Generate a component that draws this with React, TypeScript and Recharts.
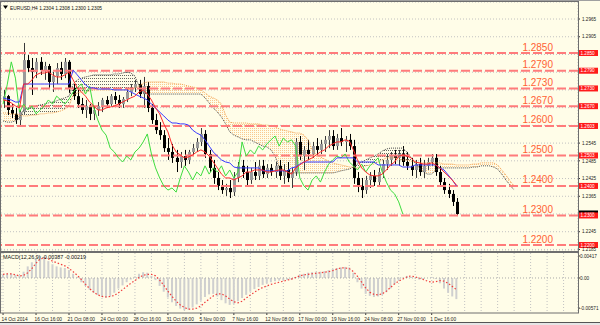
import React from "react";
import {
  ComposedChart,
  Bar,
  Line,
  Area,
  XAxis,
  YAxis,
  CartesianGrid,
  ReferenceLine,
} from "recharts";

const BG = "#fffde8";
const FONT = "Liberation Sans, Arial, sans-serif";

// EURUSD H4 - one slot = two H4 bars
const open = [
  1.2691, 1.2704, 1.2657, 1.2644, 1.2623, 1.2650, 1.2826, 1.2799, 1.2786, 1.2820,
  1.2792, 1.2806, 1.2752, 1.2772, 1.2799, 1.2779, 1.2820, 1.2732, 1.2704, 1.2677,
  1.2657, 1.2671, 1.2644, 1.2657, 1.2671, 1.2691, 1.2677, 1.2704, 1.2691, 1.2677,
  1.2694, 1.2718, 1.2732, 1.2745, 1.2711, 1.2738, 1.2664, 1.2623, 1.2589, 1.2572,
  1.2528, 1.2515, 1.2495, 1.2481, 1.2501, 1.2488, 1.2515, 1.2528, 1.2549, 1.2576,
  1.2508, 1.2461, 1.2427, 1.2400, 1.2386, 1.2393, 1.2379, 1.2427, 1.2468, 1.2447,
  1.2420, 1.2447, 1.2434, 1.2468, 1.2440, 1.2461, 1.2447, 1.2468, 1.2434, 1.2454,
  1.2427, 1.2447, 1.2549, 1.2501, 1.2522, 1.2508, 1.2535, 1.2522, 1.2542, 1.2556,
  1.2569, 1.2535, 1.2562, 1.2549, 1.2556, 1.2535, 1.2427, 1.2400, 1.2386, 1.2420,
  1.2434, 1.2413, 1.2447, 1.2474, 1.2488, 1.2501, 1.2495, 1.2508, 1.2481, 1.2468,
  1.2454, 1.2474, 1.2447, 1.2468, 1.2481, 1.2495, 1.2447, 1.2413, 1.2386, 1.2373,
  1.2346,
];
const close = [
  1.2704, 1.2657, 1.2644, 1.2623, 1.2650, 1.2826, 1.2799, 1.2786, 1.2820, 1.2792,
  1.2806, 1.2752, 1.2772, 1.2799, 1.2779, 1.2820, 1.2732, 1.2704, 1.2677, 1.2657,
  1.2671, 1.2644, 1.2657, 1.2671, 1.2691, 1.2677, 1.2704, 1.2691, 1.2677, 1.2694,
  1.2718, 1.2732, 1.2745, 1.2711, 1.2738, 1.2664, 1.2623, 1.2589, 1.2572, 1.2528,
  1.2515, 1.2495, 1.2481, 1.2501, 1.2488, 1.2515, 1.2528, 1.2549, 1.2576, 1.2508,
  1.2461, 1.2427, 1.2400, 1.2386, 1.2393, 1.2379, 1.2427, 1.2468, 1.2447, 1.2420,
  1.2447, 1.2434, 1.2468, 1.2440, 1.2461, 1.2447, 1.2468, 1.2434, 1.2454, 1.2427,
  1.2447, 1.2549, 1.2501, 1.2522, 1.2508, 1.2535, 1.2522, 1.2542, 1.2556, 1.2569,
  1.2535, 1.2562, 1.2549, 1.2556, 1.2535, 1.2427, 1.2400, 1.2386, 1.2420, 1.2434,
  1.2413, 1.2447, 1.2474, 1.2488, 1.2501, 1.2495, 1.2508, 1.2481, 1.2468, 1.2454,
  1.2474, 1.2447, 1.2468, 1.2481, 1.2495, 1.2447, 1.2413, 1.2386, 1.2373, 1.2346,
  1.2305,
];
const high = [
  1.2725, 1.2708, 1.2677, 1.2664, 1.2657, 1.2884, 1.2843, 1.2833, 1.2833, 1.2836,
  1.2820, 1.2813, 1.2786, 1.2816, 1.2820, 1.2833, 1.2826, 1.2745, 1.2725, 1.2698,
  1.2691, 1.2677, 1.2671, 1.2684, 1.2698, 1.2704, 1.2711, 1.2718, 1.2708, 1.2701,
  1.2732, 1.2745, 1.2759, 1.2759, 1.2769, 1.2752, 1.2677, 1.2644, 1.2616, 1.2589,
  1.2562, 1.2542, 1.2522, 1.2515, 1.2522, 1.2522, 1.2542, 1.2562, 1.2596, 1.2589,
  1.2522, 1.2488, 1.2447, 1.2420, 1.2407, 1.2420, 1.2447, 1.2481, 1.2488, 1.2468,
  1.2461, 1.2481, 1.2488, 1.2488, 1.2474, 1.2474, 1.2481, 1.2488, 1.2474, 1.2481,
  1.2461, 1.2562, 1.2569, 1.2535, 1.2556, 1.2549, 1.2562, 1.2556, 1.2569, 1.2589,
  1.2589, 1.2576, 1.2596, 1.2569, 1.2576, 1.2556, 1.2447, 1.2427, 1.2434, 1.2447,
  1.2454, 1.2461, 1.2488, 1.2508, 1.2515, 1.2522, 1.2522, 1.2535, 1.2515, 1.2495,
  1.2488, 1.2495, 1.2488, 1.2495, 1.2508, 1.2508, 1.2468, 1.2427, 1.2407, 1.2386,
  1.2359,
];
const low = [
  1.2664, 1.2640, 1.2630, 1.2610, 1.2606, 1.2644, 1.2786, 1.2708, 1.2765, 1.2776,
  1.2759, 1.2732, 1.2718, 1.2745, 1.2759, 1.2765, 1.2715, 1.2691, 1.2664, 1.2644,
  1.2630, 1.2623, 1.2623, 1.2637, 1.2650, 1.2664, 1.2671, 1.2677, 1.2664, 1.2664,
  1.2684, 1.2704, 1.2718, 1.2698, 1.2664, 1.2650, 1.2610, 1.2576, 1.2556, 1.2515,
  1.2488, 1.2478, 1.2447, 1.2461, 1.2468, 1.2474, 1.2501, 1.2515, 1.2535, 1.2495,
  1.2447, 1.2407, 1.2386, 1.2373, 1.2366, 1.2359, 1.2366, 1.2413, 1.2427, 1.2400,
  1.2407, 1.2420, 1.2420, 1.2427, 1.2427, 1.2434, 1.2427, 1.2420, 1.2407, 1.2413,
  1.2393, 1.2434, 1.2488, 1.2454, 1.2488, 1.2495, 1.2501, 1.2508, 1.2515, 1.2528,
  1.2522, 1.2522, 1.2535, 1.2515, 1.2522, 1.2407, 1.2379, 1.2359, 1.2373, 1.2393,
  1.2400, 1.2400, 1.2427, 1.2454, 1.2468, 1.2474, 1.2468, 1.2468, 1.2454, 1.2434,
  1.2427, 1.2434, 1.2427, 1.2454, 1.2468, 1.2434, 1.2400, 1.2373, 1.2359, 1.2332,
  1.2298,
];

// Ichimoku
const tenkan = [
  1.2691, 1.2688, 1.2681, 1.2671, 1.2664, 1.2745, 1.2745, 1.2759, 1.2776, 1.2782,
  1.2782, 1.2786, 1.2776, 1.2769, 1.2769, 1.2776, 1.2786, 1.2759, 1.2732, 1.2718,
  1.2704, 1.2684, 1.2671, 1.2657, 1.2657, 1.2664, 1.2667, 1.2671, 1.2677, 1.2684,
  1.2691, 1.2698, 1.2704, 1.2718, 1.2725, 1.2711, 1.2691, 1.2664, 1.2644, 1.2610,
  1.2583, 1.2539, 1.2515, 1.2505, 1.2495, 1.2498, 1.2505, 1.2515, 1.2522, 1.2515,
  1.2501, 1.2481, 1.2461, 1.2440, 1.2427, 1.2427, 1.2420, 1.2427, 1.2434, 1.2447,
  1.2447, 1.2454, 1.2454, 1.2454, 1.2447, 1.2447, 1.2451, 1.2454, 1.2454, 1.2447,
  1.2440, 1.2461, 1.2471, 1.2481, 1.2488, 1.2495, 1.2505, 1.2515, 1.2522, 1.2535,
  1.2542, 1.2549, 1.2549, 1.2556, 1.2552, 1.2522, 1.2488, 1.2461, 1.2447, 1.2437,
  1.2434, 1.2434, 1.2440, 1.2454, 1.2471, 1.2481, 1.2501, 1.2505, 1.2501, 1.2495,
  1.2481, 1.2478, 1.2474, 1.2474, 1.2478, 1.2471, 1.2461, 1.2447, 1.2434, 1.2420,
  1.2403,
];
const kijun = [
  1.2698, 1.2694, 1.2691, 1.2684, 1.2684, 1.2745, 1.2745, 1.2745, 1.2745, 1.2745,
  1.2745, 1.2745, 1.2745, 1.2745, 1.2745, 1.2745, 1.2745, 1.2792, 1.2776, 1.2759,
  1.2742, 1.2732, 1.2732, 1.2728, 1.2728, 1.2728, 1.2728, 1.2725, 1.2725, 1.2725,
  1.2725, 1.2718, 1.2711, 1.2704, 1.2698, 1.2691, 1.2677, 1.2664, 1.2650, 1.2637,
  1.2623, 1.2613, 1.2613, 1.2610, 1.2610, 1.2606, 1.2589, 1.2579, 1.2572, 1.2556,
  1.2535, 1.2515, 1.2501, 1.2488, 1.2481, 1.2478, 1.2464, 1.2461, 1.2461, 1.2461,
  1.2461, 1.2461, 1.2461, 1.2451, 1.2451, 1.2451, 1.2451, 1.2451, 1.2451, 1.2451,
  1.2461, 1.2464, 1.2474, 1.2481, 1.2481, 1.2481, 1.2481, 1.2481, 1.2481, 1.2481,
  1.2481, 1.2495, 1.2495, 1.2495, 1.2495, 1.2495, 1.2481, 1.2481, 1.2481, 1.2481,
  1.2481, 1.2471, 1.2471, 1.2471, 1.2471, 1.2471, 1.2471, 1.2464, 1.2464, 1.2464,
  1.2471, 1.2471, 1.2471, 1.2471, 1.2471, 1.2471, 1.2461, 1.2454, 1.2437, 1.2420,
  1.2400,
];
const chikou = [
  1.2677, 1.2742, 1.2820, 1.2765, 1.2650, 1.2677, 1.2657, 1.2671, 1.2644, 1.2657,
  1.2671, 1.2691, 1.2677, 1.2704, 1.2691, 1.2677, 1.2694, 1.2718, 1.2732, 1.2745,
  1.2711, 1.2738, 1.2664, 1.2623, 1.2589, 1.2572, 1.2528, 1.2515, 1.2495, 1.2481,
  1.2501, 1.2488, 1.2515, 1.2528, 1.2549, 1.2576, 1.2508, 1.2461, 1.2427, 1.2400,
  1.2386, 1.2393, 1.2379, 1.2427, 1.2468, 1.2447, 1.2420, 1.2447, 1.2434, 1.2468,
  1.2440, 1.2461, 1.2447, 1.2468, 1.2434, 1.2454, 1.2427, 1.2447, 1.2549, 1.2501,
  1.2522, 1.2508, 1.2535, 1.2522, 1.2542, 1.2556, 1.2569, 1.2535, 1.2562, 1.2549,
  1.2556, 1.2535, 1.2427, 1.2400, 1.2386, 1.2420, 1.2434, 1.2413, 1.2447, 1.2474,
  1.2488, 1.2501, 1.2495, 1.2508, 1.2481, 1.2468, 1.2454, 1.2474, 1.2447, 1.2468,
  1.2481, 1.2495, 1.2447, 1.2413, 1.2386, 1.2373, 1.2346, 1.2305,
];
const spanA = [
  1.2647, 1.2647, 1.2644, 1.2644, 1.2640, 1.2637, 1.2637, 1.2640, 1.2640, 1.2644,
  1.2644, 1.2647, 1.2647, 1.2650, 1.2654, 1.2660, 1.2671, 1.2708, 1.2715, 1.2718,
  1.2718, 1.2721, 1.2725, 1.2725, 1.2725, 1.2725, 1.2725, 1.2725, 1.2725, 1.2725,
  1.2725, 1.2728, 1.2732, 1.2738, 1.2748, 1.2752, 1.2752, 1.2752, 1.2752, 1.2752,
  1.2748, 1.2748, 1.2745, 1.2745, 1.2742, 1.2738, 1.2735, 1.2732, 1.2725, 1.2715,
  1.2704, 1.2698, 1.2691, 1.2677, 1.2640, 1.2616, 1.2613, 1.2613, 1.2613, 1.2613,
  1.2610, 1.2610, 1.2610, 1.2606, 1.2606, 1.2603, 1.2600, 1.2593, 1.2589, 1.2586,
  1.2583, 1.2579, 1.2579, 1.2572, 1.2556, 1.2522, 1.2505, 1.2498, 1.2491, 1.2484,
  1.2478, 1.2474, 1.2471, 1.2468, 1.2464, 1.2464, 1.2461, 1.2464, 1.2468, 1.2471,
  1.2474, 1.2481, 1.2488, 1.2495, 1.2495, 1.2495, 1.2491, 1.2488, 1.2488, 1.2484,
  1.2481, 1.2478, 1.2478, 1.2478, 1.2478, 1.2478, 1.2478, 1.2474, 1.2474, 1.2474,
  1.2471, 1.2471, 1.2471, 1.2471, 1.2474, 1.2474, 1.2478, 1.2478, 1.2478, 1.2478,
  1.2471, 1.2454, 1.2437, 1.2417, 1.2400,
];
const spanB = [
  1.2620, 1.2616, 1.2616, 1.2620, 1.2630, 1.2657, 1.2664, 1.2667, 1.2671, 1.2674,
  1.2677, 1.2681, 1.2684, 1.2688, 1.2694, 1.2698, 1.2704, 1.2745, 1.2759, 1.2765,
  1.2769, 1.2772, 1.2776, 1.2776, 1.2776, 1.2776, 1.2776, 1.2779, 1.2779, 1.2782,
  1.2786, 1.2782, 1.2772, 1.2738, 1.2715, 1.2711, 1.2711, 1.2711, 1.2711, 1.2711,
  1.2711, 1.2711, 1.2711, 1.2711, 1.2711, 1.2711, 1.2711, 1.2711, 1.2711, 1.2698,
  1.2681, 1.2664, 1.2650, 1.2633, 1.2610, 1.2583, 1.2572, 1.2566, 1.2559, 1.2556,
  1.2556, 1.2549, 1.2542, 1.2535, 1.2532, 1.2522, 1.2501, 1.2461, 1.2451, 1.2447,
  1.2444, 1.2444, 1.2444, 1.2444, 1.2444, 1.2444, 1.2444, 1.2444, 1.2444, 1.2444,
  1.2444, 1.2447, 1.2451, 1.2454, 1.2457, 1.2464, 1.2474, 1.2481, 1.2488, 1.2495,
  1.2501, 1.2508, 1.2518, 1.2525, 1.2528, 1.2528, 1.2528, 1.2528, 1.2515, 1.2495,
  1.2478, 1.2461, 1.2447, 1.2440, 1.2440, 1.2454, 1.2461, 1.2461, 1.2461, 1.2461,
  1.2461, 1.2461, 1.2461, 1.2461, 1.2464, 1.2464, 1.2468, 1.2468, 1.2468, 1.2464,
  1.2457, 1.2440, 1.2420, 1.2403, 1.2386,
];

// MACD(12,26,9)
const macdHist = [
  0.0006, 0.0008, 0.0008, 0.0006, 0.0005, 0.0012, 0.0022, 0.0030, 0.0038, 0.0042,
  0.0040, 0.0032, 0.0026, 0.0022, 0.0020, 0.0019, 0.0015, 0.0008, 0.0002, -0.0008,
  -0.0015, -0.0022, -0.0028, -0.0032, -0.0036, -0.0037, -0.0035, -0.0028, -0.0020, -0.0014,
  -0.0008, -0.0003, 0.0003, 0.0008, 0.0011, 0.0010, 0.0004, -0.0004, -0.0015, -0.0026,
  -0.0037, -0.0046, -0.0053, -0.0058, -0.0061, -0.0060, -0.0056, -0.0050, -0.0043, -0.0036,
  -0.0031, -0.0030, -0.0035, -0.0042, -0.0048, -0.0051, -0.0049, -0.0044, -0.0038, -0.0032,
  -0.0026, -0.0021, -0.0017, -0.0013, -0.0010, -0.0008, -0.0006, -0.0005, -0.0004, -0.0004,
  -0.0003, 0.0002, 0.0006, 0.0008, 0.0010, 0.0011, 0.0011, 0.0012, 0.0013, 0.0015,
  0.0017, 0.0019, 0.0020, 0.0021, 0.0020, 0.0010, -0.0008, -0.0020, -0.0030, -0.0034,
  -0.0036, -0.0035, -0.0032, -0.0027, -0.0020, -0.0012, -0.0005, 0.0001, 0.0004, 0.0002,
  -0.0001, -0.0003, -0.0002, 0.0000, 0.0002, -0.0002, -0.0010, -0.0020, -0.0028, -0.0035,
  -0.0040,
];
const macdSignal = [
  0.0007, 0.0008, 0.0008, 0.0006, 0.0004, 0.0005, 0.0010, 0.0018, 0.0028, 0.0036,
  0.0038, 0.0036, 0.0032, 0.0029, 0.0026, 0.0023, 0.0018, 0.0012, 0.0005, -0.0003,
  -0.0012, -0.0020, -0.0027, -0.0032, -0.0035, -0.0036, -0.0035, -0.0033, -0.0028, -0.0022,
  -0.0016, -0.0010, -0.0005, 0.0001, 0.0005, 0.0007, 0.0007, 0.0004, -0.0004, -0.0014,
  -0.0025, -0.0035, -0.0044, -0.0051, -0.0056, -0.0059, -0.0059, -0.0057, -0.0053, -0.0046,
  -0.0040, -0.0034, -0.0030, -0.0030, -0.0034, -0.0040, -0.0045, -0.0047, -0.0044, -0.0038,
  -0.0032, -0.0027, -0.0022, -0.0018, -0.0015, -0.0012, -0.0010, -0.0008, -0.0006, -0.0004,
  -0.0002, 0.0001, 0.0004, 0.0006, 0.0007, 0.0008, 0.0009, 0.0010, 0.0011, 0.0012,
  0.0014, 0.0017, 0.0019, 0.0019, 0.0018, 0.0012, 0.0003, -0.0008, -0.0019, -0.0027,
  -0.0031, -0.0032, -0.0030, -0.0025, -0.0018, -0.0011, -0.0006, -0.0002, 0.0002, 0.0004,
  0.0002, 0.0000, -0.0003, -0.0006, -0.0008, -0.0007, -0.0005, -0.0006, -0.0010, -0.0016,
  -0.0022,
];

const dateLabels = [
  "14 Oct 2014", "16 Oct 16:00", "21 Oct 08:00", "24 Oct 00:00", "28 Oct 16:00",
  "31 Oct 08:00", "5 Nov 00:00", "7 Nov 16:00", "12 Nov 08:00", "17 Nov 00:00",
  "19 Nov 16:00", "24 Nov 08:00", "27 Nov 00:00", "1 Dec 16:00",
];
const priceTicks = [
  1.2965, 1.2905, 1.2845, 1.2785, 1.2725, 1.2665, 1.2605, 1.2545, 1.2485, 1.2425,
  1.2365, 1.2305, 1.2245, 1.2185,
];
const levels = [1.285, 1.279, 1.273, 1.267, 1.2603, 1.2503, 1.24, 1.23, 1.22];
const levelText = ["1.2850", "1.2790", "1.2730", "1.2670", "1.2600", "1.2500", "1.2400", "1.2300", "1.2200"];
const lastPrice = 1.2305;
const macdTicks = [0.00417, 0, -0.00571];
const macdTickText = ["0.00417", "0.00", "-0.00571"];

const SLOTS = 140;
const gridIdx = Array.from({ length: SLOTS / 4 }, (_, k) => k * 4);

const isUp = (k: number) => spanA[k] != null && spanA[k] >= spanB[k];
const isDn = (k: number) => spanA[k] != null && spanA[k] < spanB[k];

const rows = Array.from({ length: SLOTS }, (_, i) => {
  const a = spanA[i];
  const b = spanB[i];
  const band = a != null ? [Math.min(a, b), Math.max(a, b)] : null;
  return {
    i,
    range: i < close.length ? [low[i], high[i]] : null,
    o: open[i],
    h: high[i],
    l: low[i],
    c: close[i],
    tenkan: tenkan[i] ?? null,
    kijun: kijun[i] ?? null,
    chikou: chikou[i] ?? null,
    spanA: a ?? null,
    spanB: b ?? null,
    cloudUp: isUp(i) ? band : null,
    cloudDn: isDn(i) || isDn(i - 1) || isDn(i + 1) ? band : null,
    hist: macdHist[i] ?? null,
    signal: macdSignal[i] ?? null,
  };
});

function Candle(props: any) {
  const { x, y, width, height, payload } = props;
  if (!payload || payload.o == null) return <g />;
  const top = Math.min(y, y + height);
  const bot = Math.max(y, y + height);
  const span = payload.h - payload.l || 1e-9;
  const yOf = (v: number) => top + ((payload.h - v) / span) * (bot - top);
  const cx = Math.round(x + width / 2) + 0.5;
  const bull = payload.c >= payload.o;
  const bTop = yOf(Math.max(payload.o, payload.c));
  const bBot = yOf(Math.min(payload.o, payload.c));
  return (
    <g>
      <line x1={cx} x2={cx} y1={top} y2={bot} stroke={bull ? "#3a3a3a" : "#000"} strokeWidth={1} />
      <rect x={cx - 1.5} y={bTop} width={3} height={Math.max(1, bBot - bTop)} fill={bull ? "#9a9a9a" : "#000"} />
    </g>
  );
}

function PriceTick(props: any) {
  const { x, y, payload } = props;
  const v = payload.value;
  const covered = [...levels, lastPrice].some((l) => Math.abs(l - v) < 0.001);
  if (covered) return <g />;
  return (
    <g>
      <line x1={x} x2={x + 2} y1={y} y2={y} stroke="#333" />
      <text x={x + 4} y={y + 1.7} fontSize={4.6} fill="#222" fontFamily={FONT}>
        {v.toFixed(4)}
      </text>
    </g>
  );
}

function MacdTick(props: any) {
  const { x, y, payload } = props;
  const k = macdTicks.indexOf(payload.value);
  return (
    <g>
      <line x1={x} x2={x + 2} y1={y} y2={y} stroke="#333" />
      <text x={x + 2} y={y + 1.7} fontSize={4.7} fill="#222" fontFamily={FONT}>
        {macdTickText[k]}
      </text>
    </g>
  );
}

function DateTick(props: any) {
  const { x, y, payload } = props;
  const idx = payload.value;
  if (idx % 8 !== 0 || idx / 8 >= dateLabels.length) return <g />;
  return (
    <g>
      <line x1={x} x2={x} y1={y} y2={y + 2} stroke="#333" />
      <text x={x - 1.5} y={y + 7.5} fontSize={4.8} fill="#222" fontFamily={FONT}>
        {dateLabels[idx / 8]}
      </text>
    </g>
  );
}

const levelLabel = (text: string, box: string) => (props: any) => {
  const vb = props.viewBox || {};
  const right = vb.x + vb.width;
  const ly = vb.y;
  return (
    <g>
      <text x={right - 25} y={ly - 2.5} textAnchor="end" fontSize={10} fill="#ff6233" fontFamily={FONT}>
        {text}
      </text>
      <rect x={right + 1} y={ly - 3} width={19} height={6} fill="#ff1a1a" />
      <text x={right + 2.5} y={ly + 1.7} fontSize={4.6} fill="#fff" fontFamily={FONT}>
        {box}
      </text>
    </g>
  );
};

const priceLabel = (props: any) => {
  const vb = props.viewBox || {};
  const right = vb.x + vb.width;
  const ly = vb.y;
  return (
    <g>
      <rect x={right + 1} y={ly - 3.5} width={19} height={7} fill="#000" />
      <text x={right + 2.5} y={ly + 1.7} fontSize={4.6} fill="#fff" fontFamily={FONT}>
        {lastPrice.toFixed(4)}
      </text>
    </g>
  );
};

export default function App() {
  return (
    <div style={{ position: "absolute", left: 0, top: 0, width: 600, height: 325, background: BG, overflow: "hidden" }}>
      <div style={{ position: "absolute", left: 0, top: 0 }}>
        <ComposedChart width={600} height={251} data={rows} margin={{ top: 2, right: 0, bottom: 0, left: 1 }}>
          <defs>
            <pattern id="dotO" width="2" height="2" patternUnits="userSpaceOnUse">
              <rect width="1" height="1" fill="#f5a656" />
            </pattern>
            <pattern id="dotD" width="2" height="3" patternUnits="userSpaceOnUse">
              <rect width="1" height="1" fill="#333" />
            </pattern>
          </defs>
          <CartesianGrid stroke="#c2c2c2" strokeDasharray="1 2" />
          <XAxis dataKey="i" ticks={gridIdx} interval={0} height={0} tick={false} tickLine={false} axisLine={false} />
          <YAxis
            orientation="right"
            width={22}
            type="number"
            domain={[1.217972, 1.302265]}
            allowDataOverflow
            ticks={priceTicks}
            interval={0}
            tick={(p: any) => <PriceTick {...p} />}
            tickLine={false}
            tickSize={0}
            tickMargin={0}
            axisLine={false}
          />
          <Area dataKey="cloudDn" type="linear" stroke="none" fill="url(#dotD)" fillOpacity={0.75} dot={false} activeDot={false} isAnimationActive={false} />
          <Area dataKey="cloudUp" type="linear" stroke="none" fill="url(#dotO)" fillOpacity={0.6} dot={false} activeDot={false} isAnimationActive={false} />
          <Line dataKey="spanB" type="linear" stroke="#4a4a4a" strokeWidth={1} strokeDasharray="1 1" dot={false} activeDot={false} isAnimationActive={false} />
          <Line dataKey="spanA" type="linear" stroke="#f3a04e" strokeWidth={1} strokeDasharray="1 1" dot={false} activeDot={false} isAnimationActive={false} />
          <ReferenceLine y={lastPrice} stroke="none" strokeOpacity={0} label={priceLabel} />
          {levels.map((v, k) => (
            <ReferenceLine
              key={v}
              y={v}
              stroke="#ff7b7b"
              strokeWidth={2}
              strokeDasharray="9 3"
              label={levelLabel(levelText[k], v.toFixed(4))}
            />
          ))}
          <Line dataKey="chikou" type="linear" stroke="#3fdc3f" strokeWidth={1} dot={false} activeDot={false} isAnimationActive={false} />
          <Bar dataKey="range" barSize={3} shape={(p: any) => <Candle {...p} />} isAnimationActive={false} />
          <Line dataKey="kijun" type="linear" stroke="#3a3aff" strokeWidth={1} dot={false} activeDot={false} isAnimationActive={false} />
          <Line dataKey="tenkan" type="linear" stroke="#ff2a2a" strokeWidth={1} dot={false} activeDot={false} isAnimationActive={false} />
        </ComposedChart>
      </div>
      <div style={{ position: "absolute", left: 0, top: 253 }}>
        <ComposedChart width={600} height={72} data={rows} margin={{ top: 0, right: 0, bottom: 0, left: 1 }}>
          <CartesianGrid stroke="#c2c2c2" strokeDasharray="1 2" horizontal={false} />
          <XAxis
            dataKey="i"
            ticks={gridIdx}
            interval={0}
            height={12}
            tick={(p: any) => <DateTick {...p} />}
            tickLine={false}
            tickSize={0}
            tickMargin={0}
            axisLine={false}
          />
          <YAxis
            orientation="right"
            width={22}
            type="number"
            domain={[-0.006634, 0.004738]}
            allowDataOverflow
            ticks={macdTicks}
            interval={0}
            tick={(p: any) => <MacdTick {...p} />}
            tickLine={false}
            tickSize={0}
            tickMargin={0}
            axisLine={false}
          />
          <ReferenceLine y={0} stroke="#a8a8a8" strokeDasharray="1 2" />
          <Bar dataKey="hist" barSize={2} fill="#cfcfcf" isAnimationActive={false} />
          <Line dataKey="signal" type="linear" stroke="#f03c3c" strokeWidth={1.2} strokeDasharray="1.5 2" dot={false} activeDot={false} isAnimationActive={false} />
        </ComposedChart>
      </div>
      <svg width={600} height={325} style={{ position: "absolute", left: 0, top: 0, pointerEvents: "none" }}>
        <rect x={0.5} y={1.5} width={578} height={250} fill="none" stroke="#6e6e6e" />
        <rect x={0.5} y={252.5} width={578} height={60.5} fill="none" stroke="#6e6e6e" />
        <line x1={0} x2={600} y1={0.5} y2={0.5} stroke="#a0a0a0" />
        <line x1={0} x2={600} y1={322.5} y2={322.5} stroke="#555" />
        <rect x={0} y={323} width={600} height={2} fill="#e6e6e6" />
        <polygon points="3,5.5 8,5.5 5.5,9" fill="#000" />
        <text x={10} y={9.6} fontSize={6.2} fill="#111" fontFamily={FONT} textLength={92} lengthAdjust="spacingAndGlyphs">
          EURUSD,H4 1.2304 1.2308 1.2300 1.2305
        </text>
        <text x={3} y={259.3} fontSize={6} fill="#111" fontFamily={FONT} textLength={83} lengthAdjust="spacingAndGlyphs">
          MACD(12,26,9) -0.00387 -0.00219
        </text>
      </svg>
    </div>
  );
}
